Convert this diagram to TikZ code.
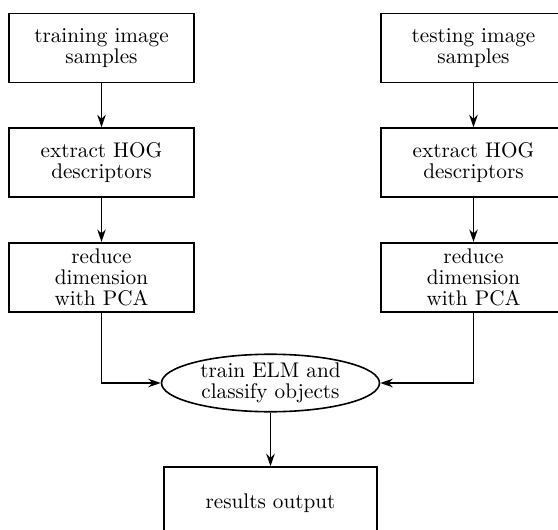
\documentclass[tikz,border=0pt]{standalone}
\usetikzlibrary{arrows.meta,positioning,shapes.geometric}

\begin{document}
\begin{tikzpicture}[
    x=0.5pt, y=-0.5pt,
    node distance=22pt,
    stage/.style={
      draw,
      line width=0.8pt,
      minimum width=92.5pt,
      minimum height=34.5pt,
      inner sep=1pt,
      align=center,
      font=\fontsize{10.6}{10.4}\selectfont
    },
    classifier/.style={
      ellipse,
      draw,
      line width=0.8pt,
      minimum width=109pt,
      minimum height=28.5pt,
      inner sep=0pt,
      align=center,
      font=\fontsize{10.6}{10.8}\selectfont
    },
    flow/.style={-{Stealth[length=2.2mm, width=1.5mm]}, line width=0.6pt}
  ]
    \useasboundingbox (0,0) rectangle (558,530);
    \clip (0,0) rectangle (558,530);

    % training branch
    \node[stage] (trainimg) at (101.5,48) {training image\\samples};
    \node[stage, below=of trainimg] (trainhog) {extract HOG\\descriptors};
    \node[stage, below=of trainhog] (trainpca) {reduce\\dimension\\with PCA};

    % testing branch
    \node[stage] (testimg) at (473.5,48) {testing image\\samples};
    \node[stage, below=of testimg] (testhog) {extract HOG\\descriptors};
    \node[stage, below=of testhog] (testpca) {reduce\\dimension\\with PCA};

    \node[classifier] (elm) at (270.5,383) {train ELM and\\classify objects};
    \node[stage, minimum width=106.5pt, minimum height=36pt] (results) at (270.5,503) {results output};

    \draw[flow] (trainimg) -- (trainhog);
    \draw[flow] (trainhog) -- (trainpca);
    \draw[flow] (testimg) -- (testhog);
    \draw[flow] (testhog) -- (testpca);
    \draw[flow] (trainpca.south) |- (elm.west);
    \draw[flow] (testpca.south) |- (elm.east);
    \draw[flow] (elm) -- (results);
  \end{tikzpicture}
\end{document}
